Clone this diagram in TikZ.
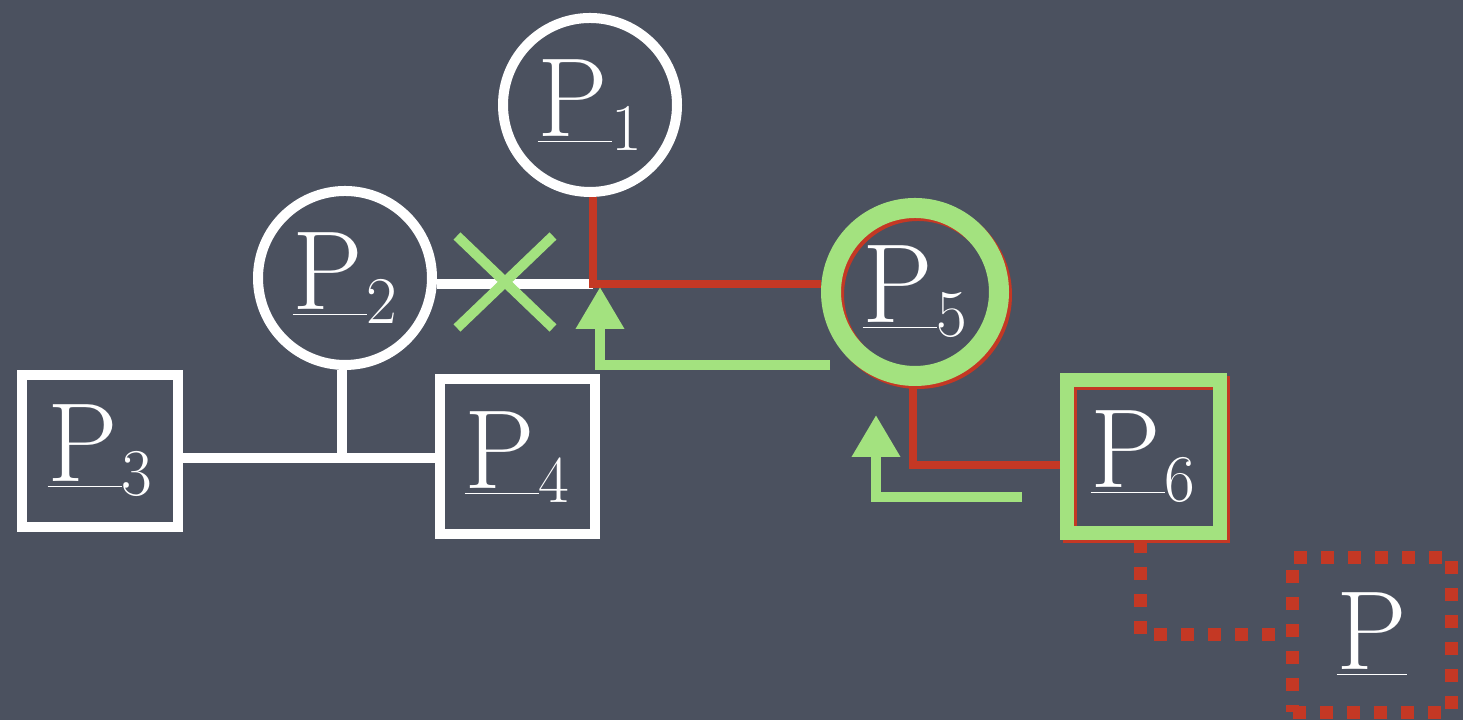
\documentclass[tikz,border=0pt]{standalone}
\usepackage{xcolor}
\usetikzlibrary{positioning, arrows.meta}
\definecolor{board}{RGB}{75,81,95}
\definecolor{chalkred}{RGB}{196,56,36}
\definecolor{chalkgreen}{RGB}{163,226,127}
\newcommand{\pvec}[1]{\underline{P\kern1pt}\raisebox{-4pt}{\fontsize{19}{21}\selectfont #1}}

\begin{document}
\begin{tikzpicture}
  [basicnode/.style={draw=white,line width=1mm,inner sep=0pt,text=white,font=\fontsize{32}{36}\selectfont},
   circlenode/.style={basicnode,circle,minimum size=1.74cm},
   boxnode/.style={basicnode,rectangle,minimum width=1.55cm,minimum height=1.55cm},
   redshadow/.style={preaction={draw=chalkred,transform canvas={xshift=0.3mm,yshift=-0.3mm}}},
   whiteline/.style={draw=white,line width=1mm},
   redline/.style={draw=chalkred,line width=0.8mm},
   reddots/.style={draw=chalkred,line width=1.3mm,dash pattern=on 1.3mm off 1.4mm},
   greenline/.style={draw=chalkgreen,line width=1mm},
   greenarrow/.style={greenline,-{Triangle[length=4.2mm,width=4.6mm]}}]
  \fill [board] (0,0) rectangle (14.63,7.2);
  \useasboundingbox (0,0) rectangle (14.63,7.2);
  % the family
  \node (p1) at (5.90,6.15) [circlenode] {\pvec{1}};
  \node (p2) at (3.45,4.42) [circlenode] {\pvec{2}};
  \node (p3) at (1.00,2.69) [boxnode,minimum width=1.56cm,minimum height=1.52cm] {\pvec{3}};
  \node (p4) at (5.17,2.63) [boxnode] {\pvec{4}};
  \node (p5) at (9.15,4.28) [circlenode,redshadow,draw=chalkgreen,line width=2mm,minimum size=1.68cm] {\pvec{5}};
  \node (p6) at (11.43,2.63) [boxnode,redshadow,draw=chalkgreen,line width=1.4mm,minimum size=1.53cm] {\pvec{6}};
  \node (pnew) at (13.72,0.85) [boxnode,reddots,minimum width=1.59cm] {\underline{P}};
  % links
  \coordinate (j1) at (5.93,4.36);
  \coordinate (j2) at (3.42,2.62);
  \coordinate (j3) at (9.13,2.55);
  \draw [whiteline] (j1 -| p2.east) -- (j1);
  \draw [redline] (p1.south -| j1) -- (j1) -- (j1 -| p5.west);
  \draw [whiteline] (p2.south -| j2) -- (j2);
  \draw [whiteline] (j2 -| p3.east) -- (j2 -| p4.west);
  \draw [redline] (p5.south -| j3) -- (j3) -- (j3 -| p6.west);
  \draw [reddots] ([xshift=-0.3mm]p6.south) |- (pnew.west);
  % the cut and the way up
  \coordinate (cut) at (5.05,4.38);
  \draw [greenline] ([shift={(-0.48,0.46)}]cut) -- ([shift={(0.48,-0.46)}]cut);
  \draw [greenline] ([shift={(-0.48,-0.46)}]cut) -- ([shift={(0.48,0.46)}]cut);
  \coordinate (up1s) at (8.30,3.55);
  \coordinate (up1e) at (6.00,4.33);
  \draw [greenarrow] (up1s) -| (up1e);
  \coordinate (up2s) at (10.22,2.23);
  \coordinate (up2e) at (8.76,3.05);
  \draw [greenarrow] (up2s) -| (up2e);
\end{tikzpicture}
\end{document}
